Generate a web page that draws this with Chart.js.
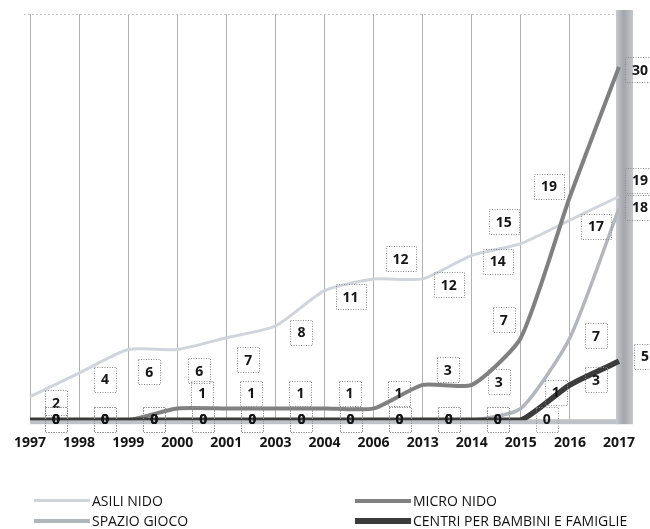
<!DOCTYPE html>
<html lang="it">
<head>
<meta charset="UTF-8">
<title>Servizi per l'infanzia 1997-2017</title>
<script src="https://cdn.jsdelivr.net/npm/chart.js"></script>
<style>
  html, body { margin: 0; padding: 0; background: #fff; }
  #wrap { position: relative; width: 650px; height: 529px; }
  #legend {
    position: absolute; left: 34px; top: 491px;
    display: grid; grid-template-columns: 321px auto; row-gap: 1px;
    font-family: 'Open Sans', sans-serif; font-size: 14px; color: #111;
  }
  .item { display: flex; align-items: center; height: 19px; }
  .swatch { width: 56px; height: 3px; margin-right: 2px; }
</style>
</head>
<body>
<div id="wrap">
  <canvas id="servChart" width="650" height="529"></canvas>
  <div id="legend"></div>
</div>
<script>
// anni e numero di servizi per tipologia
const anni = ['1997', '1998', '1999', '2000', '2001', '2003', '2004', '2006', '2013', '2014', '2015', '2016', '2017'];
const asiliNido = [2, 4, 6, 6, 7, 8, 11, 12, 12, 14, 15, 17, 19];
const microNido = [0, 0, 0, 1, 1, 1, 1, 1, 3, 3, 7, 19, 30];
const spazioGioco = [0, 0, 0, 0, 0, 0, 0, 0, 0, 0, 1, 7, 18];
const centriFamiglie = [0, 0, 0, 0, 0, 0, 0, 0, 0, 0, 0, 3, 5];

const datasets = [
    {
        label: 'ASILI NIDO', data: asiliNido,
        borderColor: '#d0d4db', borderWidth: 3, order: 3,
        labelShift: [26, 6],
        labelNudge: { 2: [21, 22], 3: [22, 21], 4: [22, 22], 7: [27, -20], 10: [-17, -22], 12: [21, -16] }
    },
    {
        label: 'MICRO NIDO', data: microNido,
        borderColor: '#808080', borderWidth: 4, order: 1,
        labelShift: [25, -15],
        labelNudge: { 9: [27, -3], 10: [-17, -18], 11: [-21, -10], 12: [21, 3] }
    },
    {
        label: 'SPAZIO GIOCO', data: spazioGioco,
        borderColor: '#b2b6bd', borderWidth: 3.5, order: 2,
        labelShift: [26, -2],
        labelNudge: { 10: [35, -16], 12: [21, -1] }
    },
    {
        label: 'CENTRI PER BAMBINI E FAMIGLIE', data: centriFamiglie,
        borderColor: '#3b3b3b', borderWidth: 5.5, order: 0,
        labelShift: [26, -5],
        labelNudge: {}
    }
];

// cornice: bordo superiore, base e barra laterale destra
const cornice = {
    id: 'cornice',
    beforeDatasetsDraw(chart) {
        const { ctx, chartArea: a } = chart;
        ctx.save();
        ctx.strokeStyle = '#c8c8c8';
        ctx.setLineDash([2, 2]);
        ctx.lineWidth = 1;
        ctx.beginPath();
        ctx.moveTo(a.left - 6, a.top + 0.5);
        ctx.lineTo(a.right, a.top + 0.5);
        ctx.stroke();
        ctx.setLineDash([]);

        ctx.fillStyle = '#bfc2c7';
        ctx.fillRect(a.left, a.bottom - 1, a.right - a.left, 5);

        const g = ctx.createLinearGradient(a.right - 3, 0, a.right + 14, 0);
        g.addColorStop(0, '#c6c9ce');
        g.addColorStop(0.45, '#a2a6ad');
        g.addColorStop(1, '#c3c6cb');
        ctx.fillStyle = g;
        ctx.fillRect(a.right - 3, a.top - 4, 17, a.bottom - a.top + 8);
        ctx.restore();
    }
};

// etichette dei valori in riquadri tratteggiati
const etichette = {
    id: 'etichette',
    afterDatasetsDraw(chart) {
        const ctx = chart.ctx;
        ctx.save();
        ctx.font = 'bold 14px "Open Sans"';
        ctx.textAlign = 'center';
        ctx.textBaseline = 'middle';
        chart.data.datasets.forEach((ds, i) => {
            const meta = chart.getDatasetMeta(i);
            meta.data.forEach((pt, j) => {
                const v = ds.data[j];
                const off = ds.labelNudge[j] || (v === 0 ? [26, -1] : ds.labelShift);
                const x = pt.x + off[0], y = pt.y + off[1];
                const txt = String(v);
                const w = Math.round(ctx.measureText(txt).width + 14), h = 25;
                ctx.setLineDash([1, 1.5]);
                ctx.strokeStyle = '#8c8c8c';
                ctx.lineWidth = 1;
                ctx.strokeRect(Math.round(x - w / 2) + 0.5, Math.round(y - h / 2) + 0.5, w, h);
                ctx.setLineDash([]);
                ctx.fillStyle = '#151515';
                ctx.fillText(txt, x, y + 1);
            });
        });
        ctx.restore();
    }
};

const ctx = document.getElementById('servChart').getContext('2d');
const servChart = new Chart(ctx, {
    type: 'line',
    data: { labels: anni, datasets: datasets },
    options: {
        responsive: false,
        animation: false,
        layout: { padding: { left: 22, right: 31, top: 14, bottom: 64 } },
        elements: {
            point: { radius: 0 },
            line: { tension: 0.2, fill: false }
        },
        plugins: { legend: { display: false }, tooltip: { enabled: false } },
        scales: {
            x: {
                offset: false,
                grid: { color: '#b0b0b0', lineWidth: 1, drawTicks: false },
                border: { display: false },
                ticks: {
                    color: '#151515', padding: 14, autoSkip: false, maxRotation: 0,
                    font: { family: 'Open Sans', size: 14, weight: 'bold' }
                }
            },
            y: { display: false, min: 0, max: 34.5 }
        }
    },
    plugins: [cornice, etichette]
});

// legenda su due colonne
const legend = document.getElementById('legend');
servChart.data.datasets.forEach(ds => {
    const item = document.createElement('div');
    item.className = 'item';
    const sw = document.createElement('span');
    sw.className = 'swatch';
    sw.style.background = ds.borderColor;
    sw.style.height = Math.round(ds.borderWidth) + 'px';
    const txt = document.createElement('span');
    txt.textContent = ds.label;
    item.appendChild(sw);
    item.appendChild(txt);
    legend.appendChild(item);
});
</script>
</body>
</html>
